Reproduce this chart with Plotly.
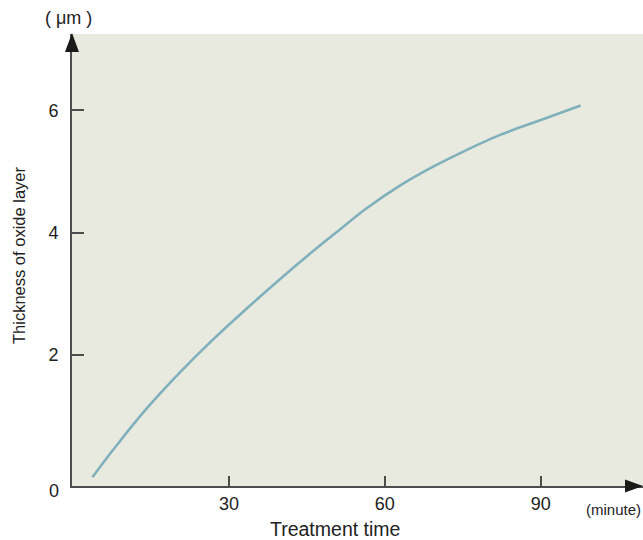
import plotly.graph_objects as go

# ---- data ----
time_min = [3.7, 7.7, 14.2, 20.6, 27.0, 33.4, 39.8, 46.2, 51.0, 56.5,
            62.9, 69.3, 75.7, 82.2, 89.9, 97.7]
thickness_um = [0.0, 0.45, 1.13, 1.72, 2.26, 2.76, 3.24, 3.70, 4.03, 4.40,
                4.77, 5.08, 5.35, 5.60, 5.84, 6.08]
x_tick_vals = [30, 60, 90]
y_tick_vals = [2, 4, 6]

# ---- layout constants ----
W, H = 643, 540
ML, MR, MT, MB = 72, 0, 34, 54
PW, PH = W - ML - MR, H - MT - MB
BG = "#e9eadf"
LINE = "#7fb0bb"
AX = "#4d4d4d"
FONT = "Liberation Sans, Arial, sans-serif"


def px(xp):
    return (xp - ML) / PW


def py(yp):
    return (H - MB - yp) / PH


fig = go.Figure()
fig.add_trace(go.Scatter(
    x=time_min, y=thickness_um, mode="lines",
    line=dict(color=LINE, width=2.6, shape="spline", smoothing=1.2),
    hoverinfo="skip", showlegend=False,
))

fig.update_layout(
    width=W, height=H,
    margin=dict(l=ML, r=MR, t=MT, b=MB, pad=0),
    paper_bgcolor="white", plot_bgcolor=BG,
    font=dict(family=FONT, size=18, color="#222"),
    xaxis=dict(range=[-0.23, 109.7], tickvals=x_tick_vals,
               ticks="inside", ticklen=10, tickwidth=1.5, tickcolor=AX,
               showline=True, linecolor=AX, linewidth=2,
               showgrid=False, zeroline=False, fixedrange=True,
               ticklabelstandoff=0, tickfont=dict(size=18, color="#222")),
    yaxis=dict(range=[-0.142, 7.25], tickvals=y_tick_vals,
               ticks="inside", ticklen=12, tickwidth=1.5, tickcolor=AX,
               showline=True, linecolor=AX, linewidth=2,
               showgrid=False, zeroline=False, fixedrange=True,
               ticklabelstandoff=8, tickfont=dict(size=18, color="#222")),
)

# arrowheads
fig.add_shape(type="path", xref="paper", yref="paper",
              path=f"M {px(72)},{py(33)} L {px(65)},{py(52)} L {px(79)},{py(52)} Z",
              fillcolor="#1a1a1a", line=dict(width=0), layer="above")
fig.add_shape(type="path", xref="paper", yref="paper",
              path=f"M {px(643)},{py(486)} L {px(625)},{py(479.5)} L {px(625)},{py(492.5)} Z",
              fillcolor="#1a1a1a", line=dict(width=0), layer="above")

ann = [
    dict(text="( μm )", x=px(68.5), y=py(18), xanchor="center", font=dict(size=18)),
    dict(text="0", x=px(54), y=py(491), xanchor="center", font=dict(size=18)),
    dict(text="(minute)", x=1.0, y=py(509), xanchor="right", font=dict(size=15)),
    dict(text="Treatment time", x=px(335), y=py(529), xanchor="center", font=dict(size=19.5)),
    dict(text="Thickness of oxide layer", x=px(19), y=py(255), xanchor="center",
         textangle=-90, font=dict(size=16.5)),
]
for a in ann:
    fig.add_annotation(xref="paper", yref="paper", showarrow=False,
                       yanchor="middle", **a)

fig.write_html("out.html", config={"displayModeBar": False},
               post_script="document.body.style.margin='0';")
